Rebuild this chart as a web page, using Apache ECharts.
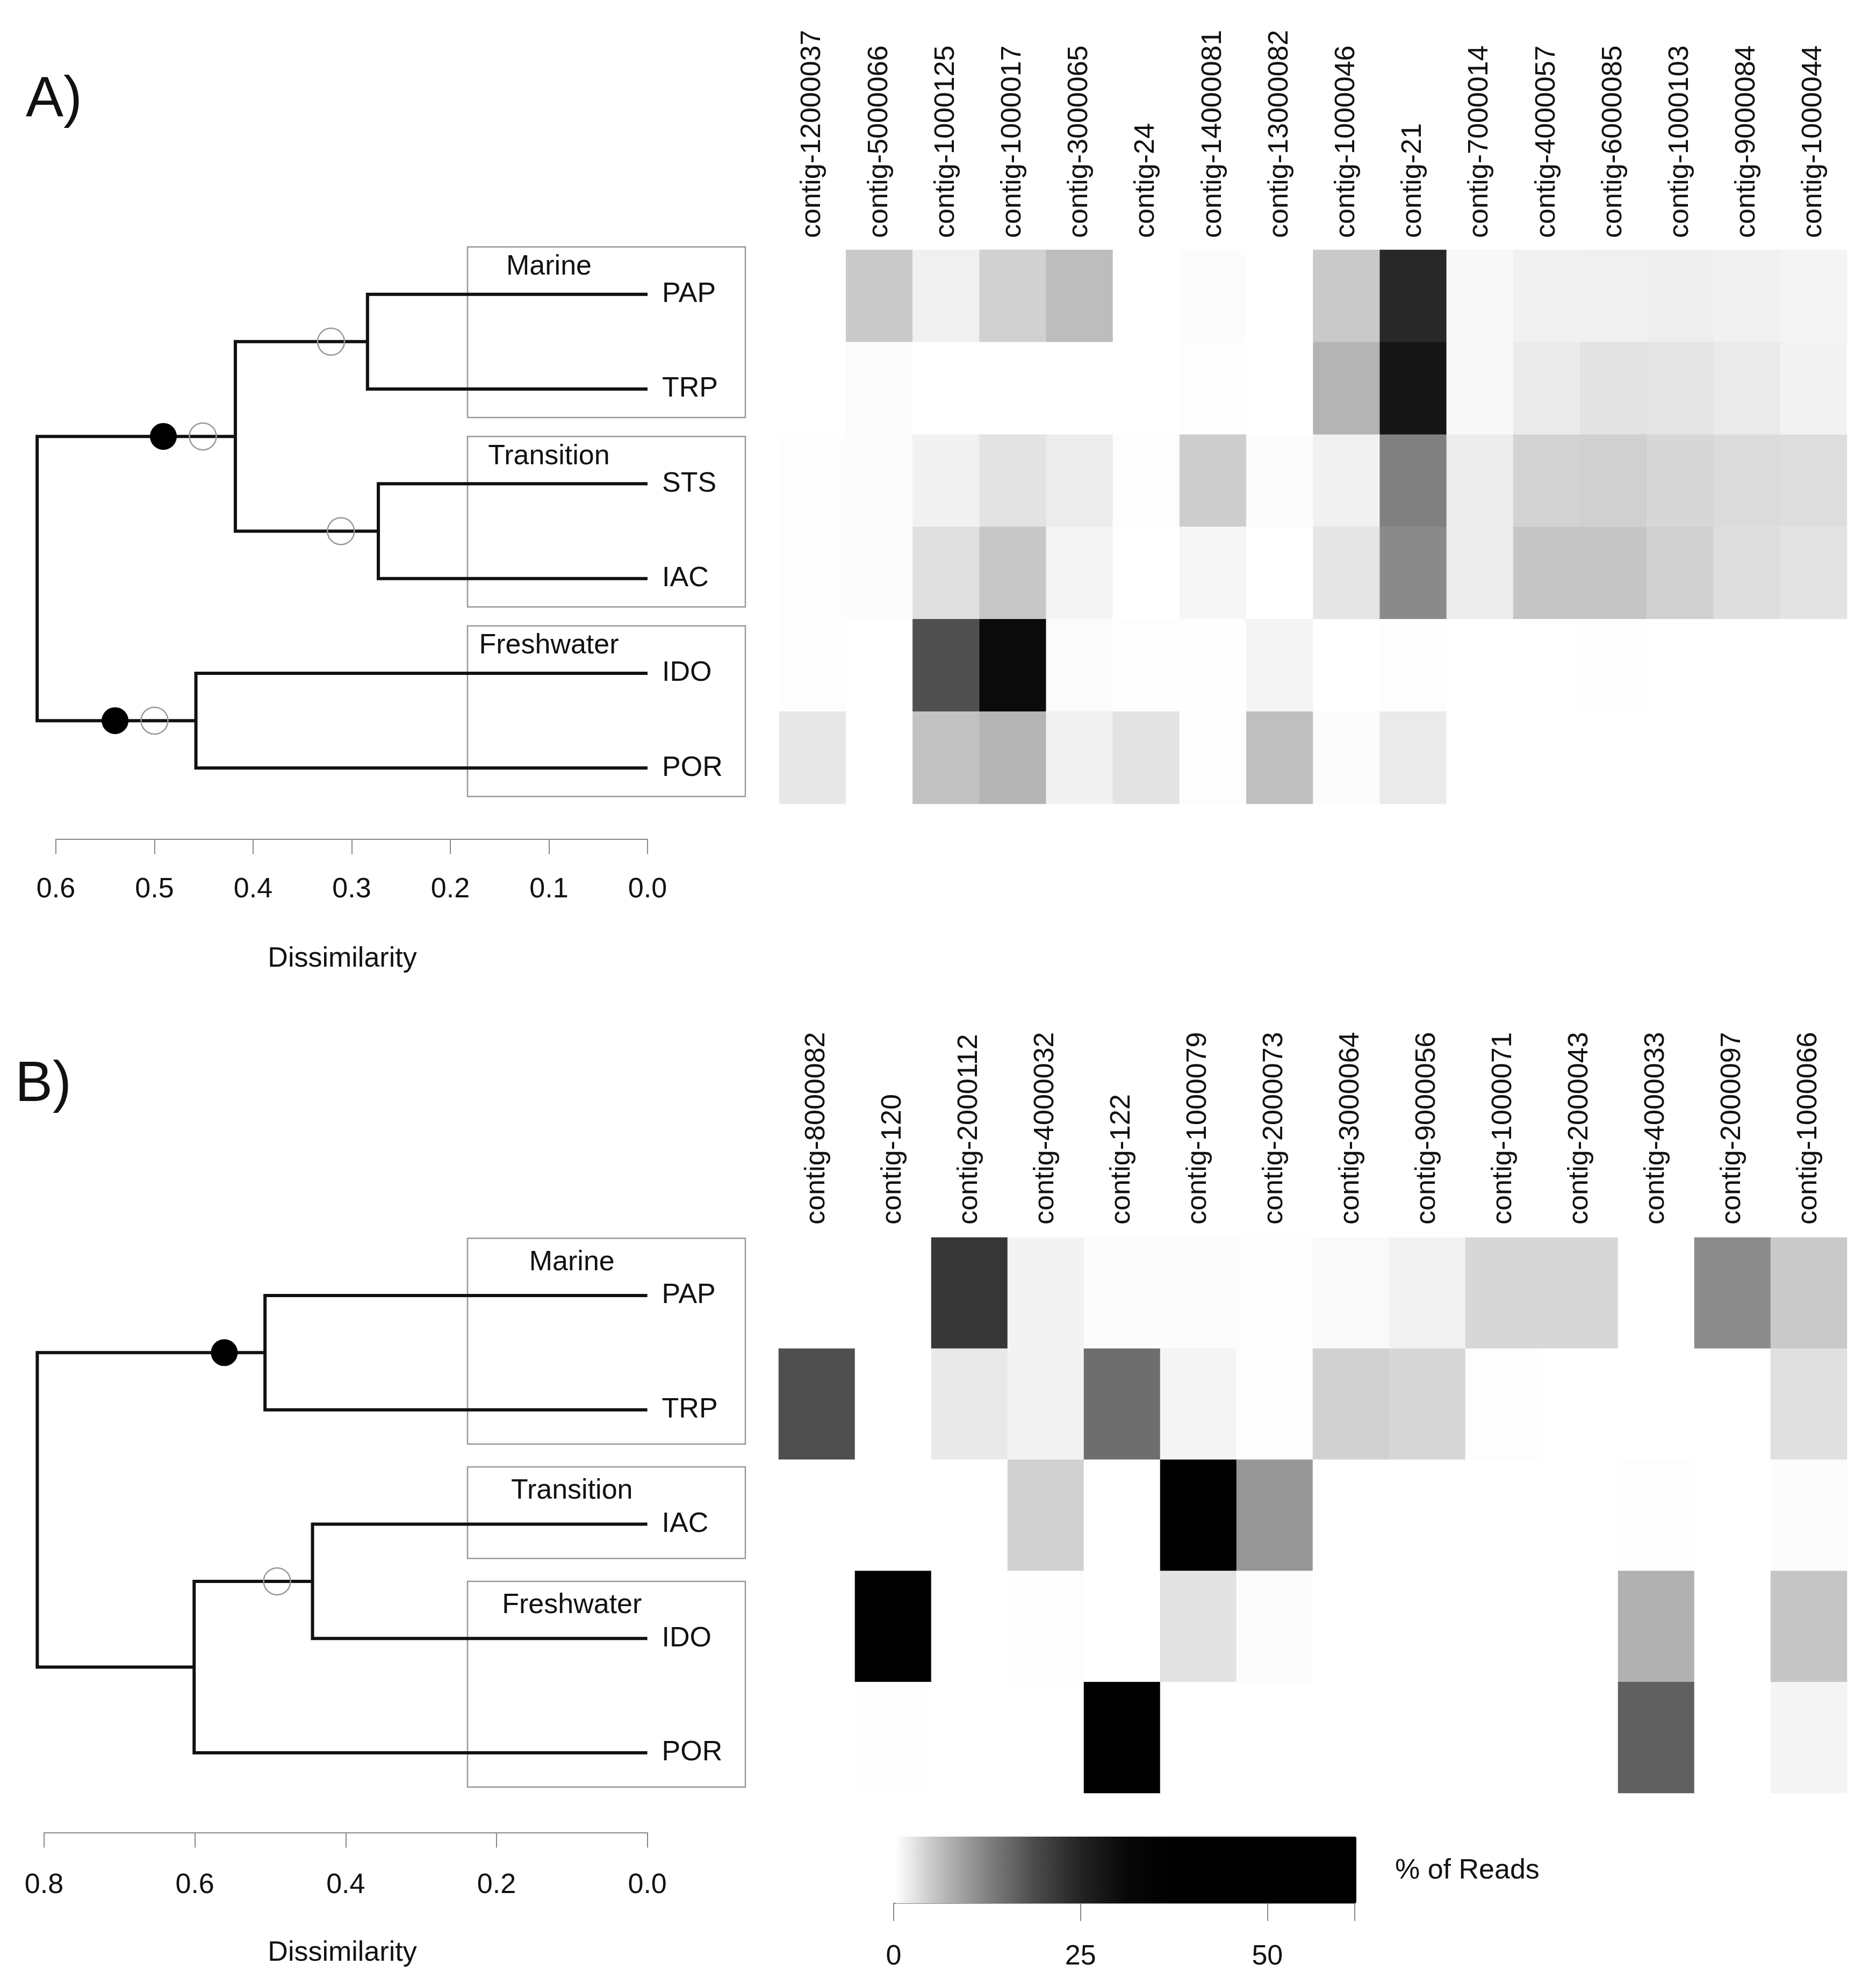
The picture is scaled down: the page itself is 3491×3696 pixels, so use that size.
<!DOCTYPE html>
<html lang="en">
<head>
<meta charset="UTF-8">
<title>contig heatmaps</title>
<script src="https://cdn.jsdelivr.net/npm/echarts@6.0.0/dist/echarts.min.js"></script>
<style>
    html, body { margin: 0; padding: 0; background: #ffffff; }
    #main { width: 3491px; height: 3696px; }
</style>
</head>
<body>
<div id="main"></div>
<script type="text/javascript">
    // ---- panel A data ----
    var contigsA = ['contig-12000037', 'contig-5000066', 'contig-1000125', 'contig-1000017',
        'contig-3000065', 'contig-24', 'contig-14000081', 'contig-13000082', 'contig-1000046',
        'contig-21', 'contig-7000014', 'contig-4000057', 'contig-6000085', 'contig-1000103',
        'contig-9000084', 'contig-1000044'];
    var sitesA = ['PAP', 'TRP', 'STS', 'IAC', 'IDO', 'POR'];
    // % of reads per site (row) and contig (column)
    var a_PAP = [0, 4.9, 1.4, 4.2, 6.0, 0, 0.3, 0, 4.9, 24.0, 0.6, 1.3, 1.4, 1.5, 1.3, 1.0];
    var a_TRP = [0, 0.3, 0, 0, 0, 0, 0.2, 0, 6.9, 27.9, 0.6, 1.9, 2.5, 2.4, 1.9, 1.2];
    var a_STS = [0.2, 0.4, 1.3, 2.5, 1.7, 0.2, 4.5, 0.3, 1.3, 12.4, 1.7, 4.0, 4.3, 3.6, 3.3, 3.1];
    var a_IAC = [0.2, 0.4, 2.9, 5.1, 1.0, 0, 0.8, 0, 2.4, 11.4, 1.7, 5.3, 5.3, 4.3, 3.0, 2.5];
    var a_IDO = [0.2, 0, 18.0, 30.1, 0.4, 0.2, 0.1, 1.0, 0, 0.2, 0, 0, 0.1, 0, 0, 0];
    var a_POR = [2.2, 0, 5.5, 6.9, 1.3, 2.5, 0.2, 5.8, 0.3, 1.9, 0, 0, 0, 0, 0, 0];
    // hclust style merges: negative = leaf (1-based), positive = earlier merge
    var mergeA = [[-1, -2], [-3, -4], [1, 2], [-5, -6], [3, 4]];
    var heightA = [0.284, 0.273, 0.418, 0.458, 0.619];
    var filledA = [[0.491, 1.5], [0.540, 4.5]];
    var openA = [[0.451, 1.5], [0.321, 0.5], [0.311, 2.5], [0.500, 4.5]];
    var groupsA = ['Marine', 'Transition', 'Freshwater'];
    var groupFromA = [0, 2, 4];
    var groupToA = [1, 3, 5];

    // ---- panel B data ----
    var contigsB = ['contig-8000082', 'contig-120', 'contig-2000112', 'contig-4000032',
        'contig-122', 'contig-1000079', 'contig-2000073', 'contig-3000064', 'contig-9000056',
        'contig-1000071', 'contig-2000043', 'contig-4000033', 'contig-2000097', 'contig-1000066'];
    var sitesB = ['PAP', 'TRP', 'IAC', 'IDO', 'POR'];
    var b_PAP = [0, 0, 21.7, 1.1, 0.3, 0.3, 0.2, 0.5, 1.2, 3.6, 3.6, 0, 11.2, 4.9];
    var b_TRP = [18.2, 0, 2.0, 1.1, 14.5, 1.0, 0.2, 4.2, 3.6, 0.2, 0, 0, 0, 2.8];
    var b_IAC = [0, 0, 0, 4.2, 0, 52.0, 10.1, 0, 0, 0, 0, 0.2, 0, 0.3];
    var b_IDO = [0, 60.0, 0, 0.2, 0, 2.6, 0.3, 0, 0, 0, 0, 7.2, 0, 5.3];
    var b_POR = [0, 0.1, 0, 0, 45.0, 0, 0, 0, 0, 0, 0, 16.2, 0, 1.0];
    var mergeB = [[-1, -2], [-3, -4], [2, -5], [1, 3]];
    var heightB = [0.507, 0.444, 0.601, 0.809];
    var filledB = [[0.561, 0.5]];
    var openB = [[0.491, 2.5]];
    var groupsB = ['Marine', 'Transition', 'Freshwater'];
    var groupFromB = [0, 2, 3];
    var groupToB = [1, 2, 4];

    // colour key
    var cbTicks = [0, 25, 50];
    var cbMax = 61.7;

    var FONT = '"Liberation Sans", Arial, sans-serif';
    var INK = '#111111';
    var FS = 52;

    function heatData(rows) {
        var out = [];
        rows.forEach(function (row, r) {
            row.forEach(function (v, c) { out.push([c, r, v]); });
        });
        return out;
    }

    // each merge drawn as the usual bracket; custom series so the root can sit past the axis end
    function dendroSeries(merge, height, xi, yi) {
        var pos = [];
        var data = [];
        function nodePos(id) { return id < 0 ? [0, -id - 1] : pos[id - 1]; }
        merge.forEach(function (m, k) {
            var a = nodePos(m[0]), b = nodePos(m[1]);
            var h = height[k];
            pos.push([h, (a[1] + b[1]) / 2]);
            data.push([a[0], a[1], h, a[1], h, b[1], b[0], b[1]]);
        });
        return {
            type: 'custom', xAxisIndex: xi, yAxisIndex: yi, silent: true, z: 3,
            data: data,
            encode: { x: [0, 2, 4, 6], y: [1, 3, 5, 7] },
            renderItem: function (params, api) {
                var pts = [];
                for (var i = 0; i < 4; i++) {
                    pts.push(api.coord([api.value(2 * i), api.value(2 * i + 1)]));
                }
                return {
                    type: 'polyline',
                    shape: { points: pts },
                    style: { stroke: '#111', lineWidth: 6, fill: null, lineJoin: 'miter' }
                };
            }
        };
    }

    function supportSeries(filled, open, xi, yi) {
        return [{
            type: 'scatter', xAxisIndex: xi, yAxisIndex: yi, clip: false, silent: true,
            symbolSize: 50, z: 5, data: filled, itemStyle: { color: '#000', opacity: 1 }
        }, {
            type: 'scatter', xAxisIndex: xi, yAxisIndex: yi, clip: false, silent: true,
            symbolSize: 50, z: 5, data: open,
            itemStyle: { color: 'rgba(0,0,0,0)', borderColor: '#999', borderWidth: 2.5, opacity: 1 }
        }];
    }

    // boxes around site groups with their name at dissimilarity 0.1
    function groupSeries(names, from, to, xi, yi) {
        var data = from.map(function (f, i) { return [f, to[i]]; });
        return {
            type: 'custom', xAxisIndex: xi, yAxisIndex: yi, silent: true, z: 1,
            data: data,
            renderItem: function (params, api) {
                var f = api.value(0), t = api.value(1);
                var top = api.coord([0, f - 0.5])[1];
                var bottom = api.coord([0, t + 0.3])[1];
                var lab = api.coord([0.1, f - 0.29]);
                return {
                    type: 'group',
                    children: [{
                        type: 'rect',
                        shape: { x: 870, y: top, width: 517, height: bottom - top },
                        style: { fill: 'none', stroke: '#999', lineWidth: 2.5 }
                    }, {
                        type: 'text', x: lab[0], y: lab[1],
                        style: {
                            text: names[params.dataIndex], fill: INK,
                            font: FS + 'px ' + FONT,
                            align: 'center', verticalAlign: 'middle',
                            textAlign: 'center', textVerticalAlign: 'middle'
                        }
                    }]
                };
            }
        };
    }

    function dissAxis(grid, max, interval, offset, margin) {
        return {
            gridIndex: grid, type: 'value', min: 0, max: max, interval: interval,
            inverse: true, position: 'bottom', offset: offset,
            splitLine: { show: false },
            axisLine: { onZero: false, lineStyle: { color: '#888', width: 2 } },
            axisTick: { length: 28, lineStyle: { color: '#888', width: 2 } },
            axisLabel: {
                margin: margin, color: INK, fontSize: FS, fontFamily: FONT,
                formatter: function (v) { return v.toFixed(1); }
            }
        };
    }

    function leafAxis(grid, sites) {
        return {
            gridIndex: grid, type: 'category', data: sites, inverse: true, position: 'right',
            axisLine: { show: false }, axisTick: { show: false }, splitLine: { show: false },
            axisLabel: { margin: 27, color: INK, fontSize: FS, fontFamily: FONT }
        };
    }

    function contigAxis(grid, contigs, margin) {
        return {
            gridIndex: grid, type: 'category', data: contigs, position: 'top',
            axisLine: { show: false }, axisTick: { show: false }, splitLine: { show: false },
            axisLabel: {
                interval: 0, rotate: -90, margin: margin,
                color: INK, fontSize: FS, fontFamily: FONT
            }
        };
    }

    var grayStops = ['#ffffff', '#bbbbbb', '#818181', '#4c4c4c', '#242424', '#080808',
        '#000000', '#000000', '#000000', '#000000', '#000000'];

    function label(text, x, y, size, align) {
        return {
            type: 'text', x: x, y: y, silent: true,
            style: {
                text: text, fill: INK, font: size + 'px ' + FONT,
                align: align, verticalAlign: 'middle',
                textAlign: align, textVerticalAlign: 'middle'
            }
        };
    }

    var chart = echarts.init(document.getElementById('main'));

    var series = [
        {
            type: 'heatmap', xAxisIndex: 1, yAxisIndex: 2, silent: true,
            data: heatData([a_PAP, a_TRP, a_STS, a_IAC, a_IDO, a_POR]),
            itemStyle: { borderWidth: 0 }
        },
        {
            type: 'heatmap', xAxisIndex: 3, yAxisIndex: 5, silent: true,
            data: heatData([b_PAP, b_TRP, b_IAC, b_IDO, b_POR]),
            itemStyle: { borderWidth: 0 }
        }
    ];
    series = series
        .concat([groupSeries(groupsA, groupFromA, groupToA, 0, 0)])
        .concat([dendroSeries(mergeA, heightA, 0, 0)])
        .concat(supportSeries(filledA, openA, 0, 0))
        .concat([groupSeries(groupsB, groupFromB, groupToB, 2, 3)])
        .concat([dendroSeries(mergeB, heightB, 2, 3)])
        .concat(supportSeries(filledB, openB, 2, 3));

    chart.setOption({
        animation: false,
        backgroundColor: '#ffffff',
        textStyle: { fontFamily: FONT },
        grid: [
            { left: 104, top: 459.5, width: 1101, height: 1058 },    // dendrogram A
            { left: 1450, top: 465, width: 1987, height: 1031 },     // heatmap A
            { left: 82, top: 2304.6, width: 1122.6, height: 1063.8 },// dendrogram B
            { left: 1449, top: 2303, width: 1988, height: 1034 },    // heatmap B
            { left: 1663, top: 3418, width: 858, height: 124 }       // colour key axis
        ],
        xAxis: [
            dissAxis(0, 0.6, 0.1, 44, 68),
            contigAxis(1, contigsA, 22),
            dissAxis(2, 0.8, 0.2, 42, 72),
            contigAxis(3, contigsB, 24),
            {
                gridIndex: 4, type: 'value', min: 0, max: cbMax, position: 'bottom',
                splitLine: { show: false },
                axisLine: { onZero: false, lineStyle: { color: '#888', width: 2 } },
                axisTick: { customValues: cbTicks.concat([cbMax]), length: 33,
                    lineStyle: { color: '#888', width: 2 } },
                axisLabel: { customValues: cbTicks, margin: 74, color: INK,
                    fontSize: FS, fontFamily: FONT }
            }
        ],
        yAxis: [
            { gridIndex: 0, type: 'value', min: -0.5, max: 5.5, inverse: true, show: false },
            leafAxis(0, sitesA),
            { gridIndex: 1, type: 'category', data: sitesA, inverse: true, show: false },
            { gridIndex: 2, type: 'value', min: -0.5, max: 4.5, inverse: true, show: false },
            leafAxis(2, sitesB),
            { gridIndex: 3, type: 'category', data: sitesB, inverse: true, show: false },
            { gridIndex: 4, type: 'value', min: 0, max: 1, show: false }
        ],
        visualMap: {
            type: 'continuous', seriesIndex: [0, 1], min: 0, max: cbMax,
            orient: 'horizontal', left: 1666, top: 3418,
            itemWidth: 124, itemHeight: 858, padding: 0,
            calculable: false, hoverLink: false,
            inRange: { color: grayStops }
        },
        graphic: [
            label('A)', 48, 187, 105, 'left'),
            label('B)', 28, 2020, 105, 'left'),
            label('Dissimilarity', 637, 1785, FS, 'center'),
            label('Dissimilarity', 637, 3635, FS, 'center'),
            label('% of Reads', 2596, 3482, FS, 'left')
        ],
        series: series
    });
</script>
</body>
</html>
